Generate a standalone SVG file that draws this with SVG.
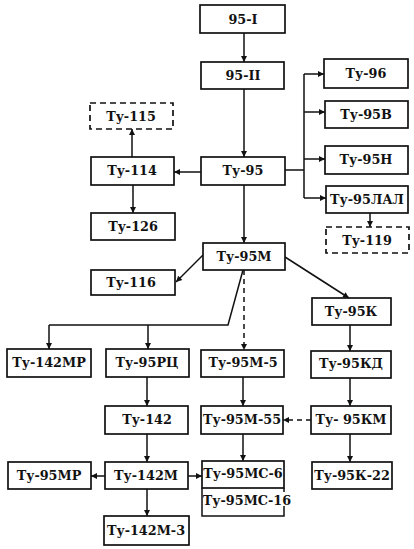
<svg xmlns="http://www.w3.org/2000/svg" width="414" height="549" viewBox="0 0 414 549">
<defs>
<marker id="ah" viewBox="0 0 10 10" refX="10" refY="5" markerWidth="7" markerHeight="6" markerUnits="userSpaceOnUse" orient="auto">
<path d="M0,0 L10,5 L0,10 z" fill="#111"/>
</marker>
<style>
.b{fill:#fff;stroke:#111;stroke-width:1.7}
.d{fill:#fff;stroke:#111;stroke-width:1.7;stroke-dasharray:6,4}
.t{font-family:"DejaVu Serif",serif;font-weight:bold;font-size:12.8px;fill:#111;text-anchor:middle}
.c{fill:none;stroke:#111;stroke-width:1.5}
.a{fill:none;stroke:#111;stroke-width:1.5;marker-end:url(#ah)}
.ad{fill:none;stroke:#111;stroke-width:1.5;stroke-dasharray:5,4;marker-end:url(#ah)}
</style>
</defs>
<rect width="414" height="549" fill="#fff"/>
<g id="connectors">
<path class="a" d="M244,33 V62"/>
<path class="a" d="M244,89 V157"/>
<path class="c" d="M285,170 H304 M304,74 V198"/>
<path class="a" d="M304,74 H324"/>
<path class="a" d="M304,112 H325"/>
<path class="a" d="M304,159 H325"/>
<path class="a" d="M304,198 H326"/>
<path class="a" d="M370,213 V227"/>
<path class="a" d="M201,172 H174"/>
<path class="a" d="M132,157 V129"/>
<path class="a" d="M133,185 V213"/>
<path class="a" d="M244,185 V243"/>
<path class="a" d="M203,255 L176,282"/>
<path class="c" d="M243,270 L228,325 H49"/>
<path class="a" d="M49,325 V349"/>
<path class="a" d="M148,325 V349"/>
<path class="ad" d="M244,270 V350"/>
<path class="a" d="M285,257 L349,298"/>
<path class="a" d="M350,325 V351"/>
<path class="a" d="M147,377 V406"/>
<path class="a" d="M243,377 V406"/>
<path class="a" d="M350,378 V406"/>
<path class="ad" d="M311,420 H283"/>
<path class="a" d="M147,434 V462"/>
<path class="a" d="M243,434 V461"/>
<path class="a" d="M105,476 H91"/>
<path class="a" d="M188,476 H202"/>
<path class="a" d="M147,489 V516"/>
<path class="a" d="M350,434 V462"/>
</g>
<g id="n95I"><rect class="b" x="200" y="5" width="85" height="28"/><text class="t" x="243" y="24">95-I</text></g>
<g id="n95II"><rect class="b" x="201" y="62" width="83" height="27"/><text class="t" x="243" y="80">95-II</text></g>
<g id="tu95"><rect class="b" x="201" y="157" width="84" height="28"/><text class="t" x="243" y="175">Ту-95</text></g>
<g id="tu96"><rect class="b" x="324" y="59" width="84" height="29"/><text class="t" x="366" y="78">Ту-96</text></g>
<g id="tu95v"><rect class="b" x="325" y="101" width="83" height="27"/><text class="t" x="366" y="119">Ту-95В</text></g>
<g id="tu95n"><rect class="b" x="325" y="146" width="83" height="28"/><text class="t" x="366" y="164">Ту-95Н</text></g>
<g id="tu95lal"><rect class="b" x="326" y="186" width="82" height="27"/><text class="t" x="367" y="204">Ту-95ЛАЛ</text></g>
<g id="tu119"><rect class="d" x="326" y="227" width="83" height="26"/><text class="t" x="367" y="245">Ту-119</text></g>
<g id="tu115"><rect class="d" x="90" y="103" width="83" height="26"/><text class="t" x="131" y="121">Ту-115</text></g>
<g id="tu114"><rect class="b" x="91" y="157" width="83" height="28"/><text class="t" x="132" y="175">Ту-114</text></g>
<g id="tu126"><rect class="b" x="91" y="213" width="84" height="27"/><text class="t" x="133" y="231">Ту-126</text></g>
<g id="tu95m"><rect class="b" x="203" y="243" width="82" height="27"/><text class="t" x="244" y="261">Ту-95М</text></g>
<g id="tu116"><rect class="b" x="91" y="270" width="84" height="25"/><text class="t" x="131" y="287">Ту-116</text></g>
<g id="tu95k"><rect class="b" x="312" y="298" width="79" height="27"/><text class="t" x="351" y="316">Ту-95К</text></g>
<g id="tu142mr"><rect class="b" x="7" y="349" width="84" height="28"/><text class="t" x="49" y="367">Ту-142МР</text></g>
<g id="tu95rc"><rect class="b" x="106" y="349" width="83" height="28"/><text class="t" x="147" y="367">Ту-95РЦ</text></g>
<g id="tu95m5"><rect class="b" x="201" y="350" width="83" height="27"/><text class="t" x="243" y="367">Ту-95М-5</text></g>
<g id="tu95kd"><rect class="b" x="311" y="351" width="80" height="27"/><text class="t" x="351" y="368">Ту-95КД</text></g>
<g id="tu142"><rect class="b" x="105" y="406" width="83" height="28"/><text class="t" x="147" y="424">Ту-142</text></g>
<g id="tu95m55"><rect class="b" x="201" y="406" width="82" height="28"/><text class="t" x="242" y="424">Ту-95М-55</text></g>
<g id="tu95km"><rect class="b" x="311" y="406" width="80" height="28"/><text class="t" x="351" y="424">Ту- 95КМ</text></g>
<g id="tu95mr"><rect class="b" x="8" y="462" width="83" height="27"/><text class="t" x="49" y="480">Ту-95МР</text></g>
<g id="tu142m"><rect class="b" x="105" y="462" width="83" height="27"/><text class="t" x="146" y="480">Ту-142М</text></g>
<g id="tu95ms6"><rect class="b" x="202" y="461" width="82" height="27"/><text class="t" x="243" y="478">Ту-95МС-6</text></g>
<g id="tu95ms16"><path class="c" d="M284,488 V492 M284,506 V516 H202 V488" stroke-width="1.7"/><text class="t" x="247" y="505">Ту-95МС-16</text></g>
<g id="tu95k22"><rect class="b" x="312" y="462" width="80" height="27"/><text class="t" x="352" y="480">Ту-95К-22</text></g>
<g id="tu142m3"><rect class="b" x="104" y="516" width="85" height="29"/><text class="t" x="146" y="535">Ту-142М-3</text></g>
</svg>
